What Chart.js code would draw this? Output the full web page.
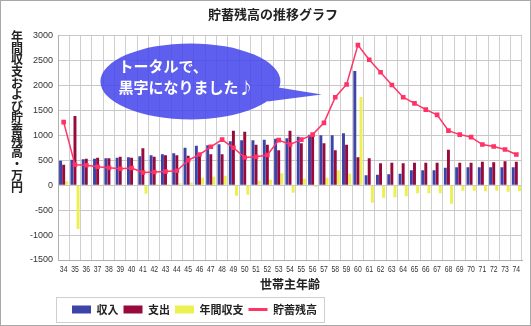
<!DOCTYPE html>
<html>
<head>
<meta charset="utf-8">
<script src="https://cdn.jsdelivr.net/npm/chart.js@4/dist/chart.umd.min.js"></script>
<style>
  html, body { margin: 0; padding: 0; background: #fff; }
</style>
</head>
<body>
<canvas id="chart" width="531" height="326"></canvas>
<script>
const ages = ['34','35','36','37','38','39','40','41','42','43','44','45','46','47','48','49','50','51','52','53','54',
              '55','56','57','58','59','60','61','62','63','64','65','66','67','68','69','70','71','72','73','74'];

// 万円
const income  = [490,510,520,530,540,550,560,580,600,620,640,750,790,800,820,880,900,900,910,930,940,
                 970,1010,1000,1000,1040,2290,200,210,220,230,300,300,300,350,360,360,360,360,360,360];
const expense = [410,1390,530,550,540,570,550,740,570,600,600,590,620,620,620,1090,1070,810,810,700,1090,
                 840,1040,840,700,810,560,540,440,450,440,450,450,450,710,450,450,470,460,480,470];
const balance = [80,-880,-20,-20,0,-20,10,-170,20,20,40,50,150,170,190,-210,-190,90,110,240,-150,
                 130,-30,150,300,230,1770,-350,-250,-240,-220,-160,-160,-160,-370,-110,-110,-120,-110,-130,-120];
const savings = [1265,410,400,370,350,330,345,255,265,275,290,500,615,770,915,750,555,570,605,905,815,
                 915,1015,1250,1765,2020,2810,2515,2265,2010,1765,1640,1515,1410,1095,1015,965,815,775,715,615];

const yTitle = '年間収支および貯蓄残高・万円';
const bubbleLines = ['トータルで、', '黒字になりました♪'];

const jp = '"Noto Sans CJK JP", "Noto Sans", sans-serif';
const tickFont = '"Liberation Sans", Arial, sans-serif';
const legendPad = 5;

const decorations = {
    id: 'decorations',
    beforeDraw(chart) {
        const {ctx, width, height} = chart;
        ctx.save();
        ctx.fillStyle = '#fff';
        ctx.fillRect(0, 0, width, height);
        ctx.strokeStyle = '#a8a8a8';
        ctx.lineWidth = 1;
        ctx.strokeRect(0.5, 0.5, width - 1, height - 1);
        ctx.restore();
    },
    afterLayout(chart) {
        // legend sits under the plot's left edge
        const lg = chart.legend;
        const shift = chart.chartArea.left + 14 - legendPad - lg.left;
        lg.left += shift;
        lg.right += shift;
    },
    beforeDatasetsDraw(chart) {
        // speech bubble
        const {ctx, scales: {x, y}} = chart;
        const cx = x.getPixelForValue(11.2), cy = y.getPixelForValue(2080);
        const tipX = x.getPixelForValue(22.8), tipY = y.getPixelForValue(1820);
        ctx.save();
        ctx.beginPath();
        ctx.ellipse(cx, cy, 90, 38, 0, 0, Math.PI * 2);
        ctx.moveTo(cx + 82, cy + 5);
        ctx.lineTo(tipX, tipY);
        ctx.lineTo(cx + 77, cy + 20);
        ctx.closePath();
        ctx.fillStyle = 'rgba(66,66,236,0.85)';
        ctx.fill('nonzero');
        ctx.fillStyle = '#fff';
        ctx.font = 'bold 15px ' + jp;
        ctx.textAlign = 'left';
        ctx.textBaseline = 'middle';
        ctx.fillText(bubbleLines[0], cx - 72, cy - 15);
        ctx.fillText(bubbleLines[1], cx - 72, cy + 6);
        ctx.restore();
    },
    afterDraw(chart) {
        const {ctx, chartArea, scales: {x}} = chart;
        ctx.save();
        // narrow age labels under the axis
        ctx.fillStyle = '#333';
        ctx.font = '9px ' + tickFont;
        ctx.textAlign = 'center';
        ctx.textBaseline = 'middle';
        x.ticks.forEach((t, i) => {
            ctx.save();
            ctx.translate(x.getPixelForTick(i), chartArea.bottom + 9.5);
            ctx.scale(0.76, 1);
            ctx.fillText(ages[i], 0, 0);
            ctx.restore();
        });
        // vertical y-axis title
        ctx.fillStyle = '#222';
        ctx.font = 'bold 12px ' + jp;
        [...yTitle].forEach((ch, i) => {
            ctx.fillText(ch, 17, chartArea.top + 1 + i * 11.6);
        });
        // legend frame
        const boxes = chart.legend.legendHitBoxes;
        if (boxes && boxes.length) {
            const first = boxes[0], last = boxes[boxes.length - 1];
            ctx.strokeStyle = '#cfcfcf';
            ctx.lineWidth = 1;
            ctx.strokeRect(Math.round(first.left) - 15.5, Math.round(first.top) - 6.5,
                           Math.round(last.left + last.width - first.left) + 23, Math.round(first.height) + 14);
        }
        ctx.restore();
    }
};

new Chart(document.getElementById('chart'), {
    type: 'bar',
    data: {
        labels: ages,
        datasets: [
            {
                label: '収入',
                data: income,
                backgroundColor: '#3d44a8',
                categoryPercentage: 0.82,
                barPercentage: 0.95,
                order: 1
            },
            {
                label: '支出',
                data: expense,
                backgroundColor: '#990a3c',
                categoryPercentage: 0.82,
                barPercentage: 0.95,
                order: 1
            },
            {
                label: '年間収支',
                data: balance,
                backgroundColor: '#ecf050',
                categoryPercentage: 0.82,
                barPercentage: 0.95,
                order: 1
            },
            {
                type: 'line',
                label: '貯蓄残高',
                data: savings,
                borderColor: '#ff3366',
                backgroundColor: '#ff3366',
                borderWidth: 1.5,
                pointStyle: 'rect',
                pointRadius: 2.2,
                tension: 0,
                order: 0
            }
        ]
    },
    options: {
        responsive: false,
        devicePixelRatio: 1,
        animation: false,
        layout: {
            padding: { left: 24, right: 9, top: 0, bottom: 1 }
        },
        plugins: {
            title: {
                display: true,
                text: '貯蓄残高の推移グラフ',
                color: '#222',
                font: { family: jp, size: 13, weight: 'bold' },
                padding: { top: 6, bottom: 14 }
            },
            legend: {
                position: 'bottom',
                align: 'start',
                labels: {
                    color: '#222',
                    font: { family: jp, size: 11, weight: 'bold' },
                    usePointStyle: true,
                    pointStyleWidth: 19,
                    boxWidth: 19,
                    boxHeight: 8,
                    padding: legendPad,
                    sort: (a, b) => a.datasetIndex - b.datasetIndex,
                    generateLabels(chart) {
                        const items = Chart.defaults.plugins.legend.labels.generateLabels(chart);
                        items.forEach(item => {
                            if (item.datasetIndex === 3) {
                                item.pointStyle = 'line';
                                item.lineWidth = 3;
                            } else {
                                item.pointStyle = 'rect';
                                item.lineWidth = 0;
                            }
                        });
                        return items;
                    }
                }
            },
            tooltip: { enabled: false }
        },
        scales: {
            x: {
                grid: { color: '#cfcfcf', drawTicks: false, offset: true },
                border: { color: '#b0b0b0' },
                ticks: {
                    color: 'rgba(0,0,0,0)',
                    font: { family: tickFont, size: 9 },
                    padding: 2,
                    autoSkip: false,
                    maxRotation: 0
                },
                title: {
                    display: true,
                    text: '世帯主年齢',
                    color: '#222',
                    font: { family: jp, size: 12, weight: 'bold' },
                    padding: { top: 2, bottom: 7.8 }
                }
            },
            y: {
                min: -1500,
                max: 3000,
                afterFit(scale) { scale.width = 34; },
                grid: { color: '#c8c8c8', drawTicks: false },
                border: { color: '#b0b0b0' },
                ticks: {
                    stepSize: 500,
                    color: '#333',
                    font: { family: tickFont, size: 9 },
                    padding: 5,
                    callback: value => String(value)
                }
            }
        }
    },
    plugins: [decorations]
});
</script>
</body>
</html>
